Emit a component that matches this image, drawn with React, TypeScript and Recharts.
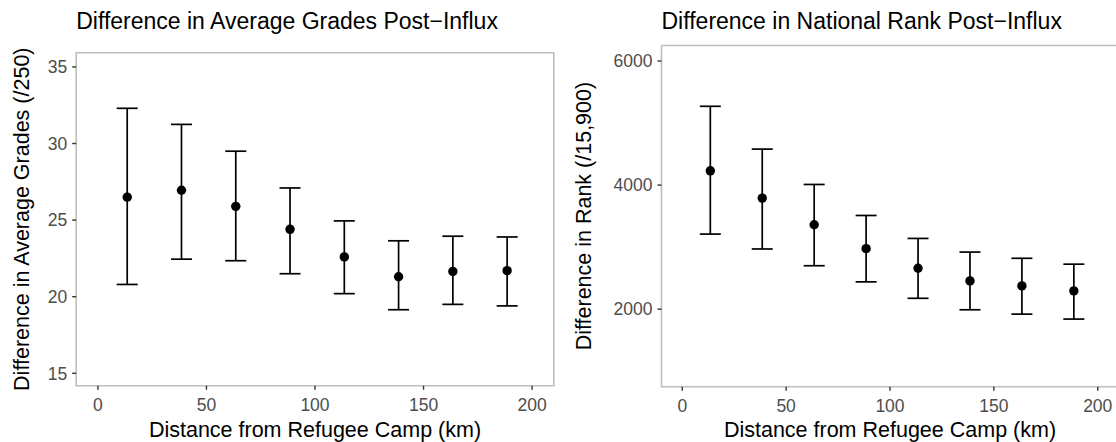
import React from 'react';
import { ScatterChart, Scatter, XAxis, YAxis, ErrorBar, ReferenceArea, Label } from 'recharts';

const distanceKm = [13.5, 38.5, 63.5, 88.5, 113.5, 138.5, 163.5, 188.5];
const xTicks = [0, 50, 100, 150, 200];

const gradeMean = [26.5, 26.95, 25.9, 24.4, 22.6, 21.3, 21.65, 21.7];
const gradeLower = [20.8, 22.45, 22.35, 21.5, 20.2, 19.15, 19.5, 19.4];
const gradeUpper = [32.3, 31.25, 29.5, 27.1, 24.95, 23.65, 23.95, 23.9];
const gradeTicks = [15, 20, 25, 30, 35];

const rankMean = [4230, 3790, 3360, 2975, 2660, 2455, 2375, 2295];
const rankLower = [3210, 2970, 2700, 2440, 2175, 1990, 1920, 1840];
const rankUpper = [5270, 4580, 4010, 3510, 3140, 2920, 2820, 2725];
const rankTicks = [2000, 4000, 6000];

const FONT = '"Liberation Sans", Arial, Helvetica, sans-serif';
const TICK_FONT = 17.5;
const AXIS_TITLE_FONT = 21.5;
const TITLE_FONT = 23;

type Row = { x: number; mean: number; err: [number, number] };

function buildRows(means: number[], lows: number[], highs: number[]): Row[] {
  return distanceKm.map((x, i) => ({
    x,
    mean: means[i],
    err: [means[i] - lows[i], highs[i] - means[i]],
  }));
}

const gradeRows = buildRows(gradeMean, gradeLower, gradeUpper);
const rankRows = buildRows(rankMean, rankLower, rankUpper);

const Dot = (p: any) => <circle cx={p.cx} cy={p.cy} r={4.7} fill="#000" />;

type PanelProps = {
  left: number;
  width: number;
  height: number;
  plotLeft: number;
  plotRight: number;
  plotTop: number;
  plotBottom: number;
  rows: Row[];
  yDomain: [number, number];
  yTicks: number[];
  yTitle: string;
  yTitleX: number;
  title: string;
};

function Panel(props: PanelProps) {
  const { left, width, height, plotLeft, plotRight, plotTop, plotBottom, rows, yDomain, yTicks, yTitle, yTitleX, title } = props;
  const xMid = (plotLeft + plotRight) / 2;
  const yMid = (plotTop + plotBottom) / 2;
  return (
    <div style={{ position: 'absolute', left, top: 0, width, height }}>
      <div
        style={{
          position: 'absolute',
          left: plotLeft,
          top: 10,
          fontFamily: FONT,
          fontSize: TITLE_FONT,
          color: '#000',
          whiteSpace: 'nowrap',
          lineHeight: 1,
        }}
      >
        {title}
      </div>
      <ScatterChart
        width={width}
        height={height}
        margin={{ top: plotTop, right: width - plotRight, bottom: 0, left: 0 }}
        style={{ position: 'absolute', left: 0, top: 0 }}
      >
        <XAxis
          type="number"
          dataKey="x"
          domain={[-10, 210]}
          ticks={xTicks}
          allowDataOverflow
          height={height - plotBottom}
          axisLine={false}
          tickLine={{ stroke: '#333333', strokeWidth: 1.4 }}
          tickSize={4}
          tickMargin={9}
          tick={{ fill: '#4D4D4D', fontSize: TICK_FONT, fontFamily: FONT }}
        >
          <Label
            content={() => (
              <text x={xMid} y={height - 5} textAnchor="middle" fontFamily={FONT} fontSize={AXIS_TITLE_FONT} fill="#000">
                Distance from Refugee Camp (km)
              </text>
            )}
          />
        </XAxis>
        <YAxis
          type="number"
          dataKey="mean"
          domain={yDomain}
          ticks={yTicks}
          allowDataOverflow
          width={plotLeft}
          axisLine={false}
          tickLine={{ stroke: '#333333', strokeWidth: 1.4 }}
          tickSize={4}
          tickMargin={5}
          tick={{ fill: '#4D4D4D', fontSize: TICK_FONT, fontFamily: FONT }}
        >
          <Label
            content={() => (
              <text
                x={yTitleX}
                y={yMid}
                textAnchor="middle"
                dominantBaseline="central"
                transform={`rotate(-90, ${yTitleX}, ${yMid})`}
                fontFamily={FONT}
                fontSize={AXIS_TITLE_FONT}
                fill="#000"
              >
                {yTitle}
              </text>
            )}
          />
        </YAxis>
        <ReferenceArea
          x1={-10}
          x2={210}
          y1={yDomain[0]}
          y2={yDomain[1]}
          fill="none"
          stroke="#BEBEBE"
          strokeWidth={1.6}
          ifOverflow="visible"
        />
        <Scatter data={rows} dataKey="mean" fill="#000" shape={Dot} isAnimationActive={false}>
          <ErrorBar dataKey="err" direction="y" width={10.5} stroke="#000" strokeWidth={1.7} isAnimationActive={false} />
        </Scatter>
      </ScatterChart>
    </div>
  );
}

export default function App() {
  return (
    <div
      style={{
        position: 'absolute',
        left: 0,
        top: 0,
        width: 1116,
        height: 442,
        overflow: 'hidden',
        background: '#fff',
      }}
    >
      <Panel
        left={0}
        width={560}
        height={442}
        plotLeft={76.2}
        plotRight={553.8}
        plotTop={52.7}
        plotBottom={385.7}
        rows={gradeRows}
        yDomain={[14.19, 35.93]}
        yTicks={gradeTicks}
        yTitle="Difference in Average Grades (/250)"
        yTitleX={22}
        title="Difference in Average Grades Post−Influx"
      />
      <Panel
        left={560}
        width={560}
        height={442}
        plotLeft={101.5}
        plotRight={558.5}
        plotTop={45.5}
        plotBottom={386.7}
        rows={rankRows}
        yDomain={[750, 6250]}
        yTicks={rankTicks}
        yTitle="Difference in Rank (/15,900)"
        yTitleX={24}
        title="Difference in National Rank Post−Influx"
      />
    </div>
  );
}
